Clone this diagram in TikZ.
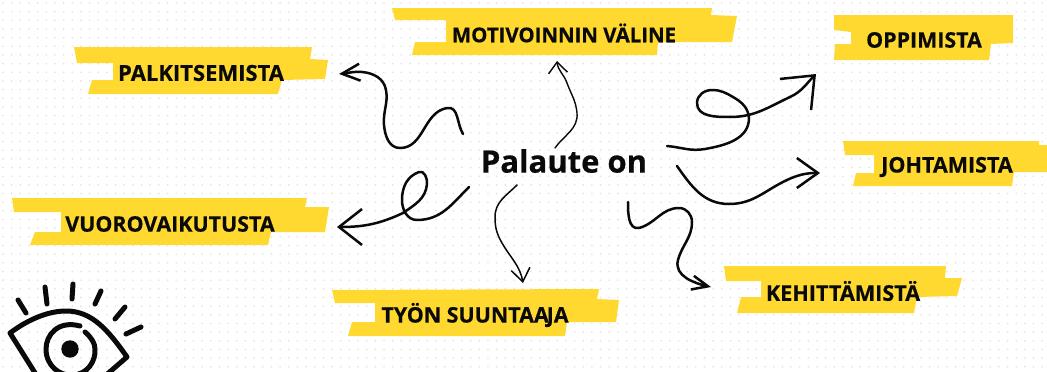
\documentclass[tikz,border=0pt]{standalone}
\usepackage{fontspec}
\setmainfont{Open Sans}[BoldFeatures={FakeBold=0.5}]
\usepackage{tikz}
\usetikzlibrary{arrows.meta,positioning}
\usepackage{xcolor}
\definecolor{tapeyellow}{HTML}{FFD92F}
\definecolor{inkblack}{HTML}{0A0A0A}
\definecolor{dotgray}{HTML}{E2E2E2}

\begin{document}
\begin{tikzpicture}[
  x=1pt, y=-1pt,
  tape/.style={fill=tapeyellow},
  label/.style={inner sep=0pt, text=inkblack,
                font=\fontsize{#1}{24}\selectfont\bfseries},
  hand/.style 2 args={-{Straight Barb[length=#1,width=#2]},
                      line width=2.5pt, line cap=round, line join=round, inkblack},
  eyeline/.style={line width=5pt, line cap=round, line join=round, inkblack}
]
  \useasboundingbox (0,0) rectangle (1047,372);
  \clip (0,0) rectangle (1047,372);
  \fill[white] (0,0) rectangle (1047,372);

  %% Dotted paper
  \foreach \row in {0,...,42}
    \foreach \col in {0,...,120}
      \fill[dotgray] ({3+8.66*\col},{3+8.66*\row}) circle (0.9);

  %% Tape strips
  \fill[tape] (74,47) -- (77,63) -- (113,63) -- (113,80) -- (92,80) -- (88,94)
    -- (278,94) -- (282,80) -- (325,79) -- (328,60) -- (310,59) -- (312,47) -- cycle;
  \fill[tape] (392,8) -- (395,20) -- (446,20) -- (446,42) -- (415,42) -- (412,55)
    -- (657,55) -- (658,42) -- (732,42) -- (737,16) -- (711,15) -- (712,8) -- cycle;
  \fill[tape] (834,15) -- (834,30) -- (851,32) -- (851,44) -- (835,44) -- (834,60)
    -- (989,60) -- (991,44) -- (1013,43) -- (1013,15) -- cycle;
  \fill[tape] (843,141) -- (845,155) -- (874,155) -- (874,173) -- (856,173) -- (853,186)
    -- (1012,186) -- (1014,172) -- (1047,172) -- (1047,145) -- (1039,145) -- (1039,141) -- cycle;
  \fill[tape] (724,266) -- (726,281) -- (761,281) -- (761,297) -- (741,297) -- (737,313)
    -- (914,313) -- (917,297) -- (957,296) -- (962,278) -- (945,278) -- (946,266) -- cycle;
  \fill[tape] (332,290) -- (335,303) -- (375,303) -- (375,322) -- (352,322) -- (348,336)
    -- (565,336) -- (567,322) -- (616,322) -- (619,300) -- (597,299) -- (599,289) -- cycle;
  \fill[tape] (12,198) -- (14,212) -- (61,212) -- (61,232) -- (35,232) -- (30,245)
    -- (268,245) -- (271,232) -- (325,232) -- (329,207) -- (305,207) -- (307,198) -- cycle;

  %% Labels
  \node[inner sep=0pt, text=inkblack, font=\fontsize{31}{36}\selectfont\bfseries]
    (palaute) at (564,161) {Palaute on};
  \node[label=22] (palkitsemista) at (201,73) {PALKITSEMISTA};
  \node[label=20.4] (motivoinnin) at (564,33) {MOTIVOINNIN VÄLINE};
  \node[label=21.4] (oppimista) at (924,40) {OPPIMISTA};
  \node[label=21.5] (johtamista) at (947,167) {JOHTAMISTA};
  \node[label=21.6] (kehittamista) at (843,291) {KEHITTÄMISTÄ};
  \node[label=21.4] (tyon) at (475,315) {TYÖN SUUNTAA\kern-2pt JA};
  \node[label=21.4] (vuoro) at (170,224) {VUOROVAIKUTUSTA};

  %% Hand drawn arrows
  \draw[hand={18pt}{17pt}] ([shift={(-101,-27)}]palaute.center)
    to[out=122,in=10] (447,108) to[out=190,in=0] (400,148)
    to[out=180,in=-85] (384,125) to[out=95,in=-80] (386,90)
    to[out=100,in=-5] (362,72) to[out=175,in=5] ([shift={(138,1)}]palkitsemista.center);
  \draw[hand={11pt}{19pt}, line width=1.4pt] ([shift={(-9,-13)}]palaute.center)
    to[out=55,in=-85] (577,113) to[out=95,in=-70] (567,83)
    to[out=110,in=-85] ([shift={(-7,28)}]motivoinnin.center);
  \draw[hand={27pt}{44pt}] ([shift={(103,-15)}]palaute.center)
    to[out=-5,in=190] (705,149) to[out=10,in=-90] (749,118)
    to[out=95,in=-30] (733,97) to[out=150,in=0] (712,90) to[out=180,in=90] (697,103)
    to[out=-90,in=180] (730,117) to[out=0,in=205] (790,97)
    to[out=25,in=225] ([shift={(-108,34)}]oppimista.center);
  \draw[hand={21pt}{30pt}] ([shift={(113,5)}]palaute.center)
    to[out=-55,in=180] (729,204) to[out=0,in=205] (787,180)
    to[out=25,in=180] ([shift={(-127,6)}]johtamista.center);
  \draw[hand={16pt}{14pt}] ([shift={(64,41)}]palaute.center)
    to[out=-90,in=190] (639,228) to[out=15,in=180] (679,208)
    to[out=0,in=90] (692,222) to[out=-90,in=75] (678,260)
    to[out=-105,in=167] ([shift={(-132,-4)}]kehittamista.center);
  \draw[hand={13pt}{19pt}, line width=1.5pt] ([shift={(-47,24)}]palaute.center)
    to[out=-135,in=90] (495,217) to[out=-90,in=120] (502,243)
    to[out=-60,in=100] ([shift={(48,-32)}]tyon.center);
  \draw[hand={23pt}{36pt}] ([shift={(-95,26)}]palaute.center)
    to[out=-135,in=0] (417,220) to[out=180,in=-90] (402,200)
    to[out=90,in=200] (419,172) to[out=20,in=85] (427,184)
    to[out=-95,in=35] (403,213) to[out=-155,in=0] ([shift={(167,3)}]vuoro.center);

  %% Eye
  \draw[eyeline] (37,376) -- (10,333) .. controls (30,318) and (50,311) .. (66,311)
    .. controls (92,311) and (108,330) .. (127,357) -- (105,376);
  \draw[eyeline] (80,326) .. controls (58,320) and (46,335) .. (46,349)
    .. controls (46,366) and (60,376) .. (72,375) .. controls (88,375) and (96,360) .. (95,349)
    .. controls (95,343) and (91,337) .. (85,332);
  \fill[inkblack] (70,349) circle (8.7);
  \foreach \xa/\ya/\xb/\yb in {18/300/26/313, 45/287/47/304, 73/284/72/299,
                               101/291/95/304, 125/307/115/319, 141/327/126/334}
    \draw[eyeline] (\xa,\ya) -- (\xb,\yb);
\end{tikzpicture}
\end{document}
